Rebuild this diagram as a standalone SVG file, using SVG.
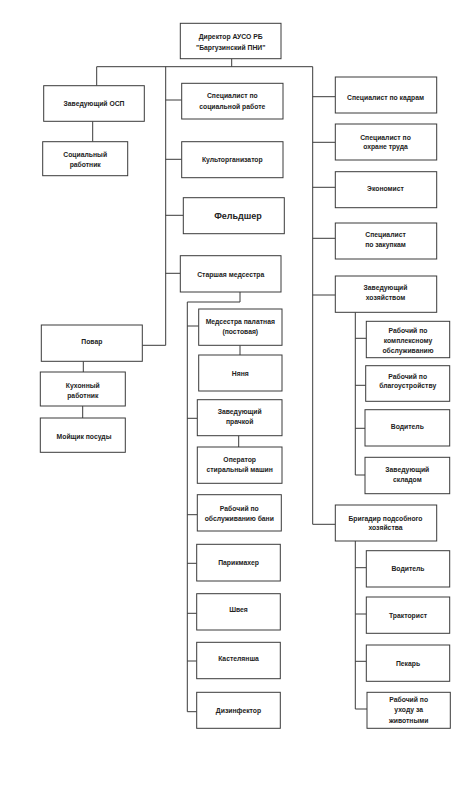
<svg xmlns="http://www.w3.org/2000/svg" width="472" height="802" viewBox="0 0 472 802">
<style>
.b{fill:#fff;stroke:#3a3a3a;stroke-width:1}
.t{font-family:"Liberation Sans",Arial,sans-serif;font-size:6.8px;font-weight:bold;fill:#222;text-anchor:middle}
.big{font-size:9px}
.c{fill:none;stroke:#3a3a3a;stroke-width:1}
</style>
<rect width="472" height="802" fill="#fff"/>
<g id="connectors">
<path class="c" d="M231.7,58.7V66.7M96.7,85.7V66.7H312.7V524.3H335.3M165.7,66.7V345.3H142.3"/>
<path class="c" d="M165.7,100H181.7M165.7,159.3H181.7M165.7,215.3H183.3M165.7,273.3H180.3"/>
<path class="c" d="M312.7,96.7H335.3M312.7,142.3H335.3M312.7,187.3H335.3M312.7,238.3H335.3M312.7,295H335.3"/>
<path class="c" d="M92.7,121.3V141.7M83.3,361.3V372M82.7,406V418"/>
<path class="c" d="M240,292V302H187.3V711.7H196.7M187.3,326H198.7M187.3,418.3H197.3M187.3,514.7H197.3M187.3,563.3H196.7M187.3,613.3H196.7M187.3,661H196.7M240,345.3V355M238.7,435.7V447"/>
<path class="c" d="M355.3,312.3V475H365M355.3,338.3H366.3M355.3,385.3H365.7M355.3,428.3H365"/>
<path class="c" d="M355.3,541V709H367M355.3,567.7H366.3M355.3,614H366.3M355.3,661.3H366.3"/>
</g>
<g id="director"><rect class="b" x="180.3" y="23.3" width="100.7" height="35.4"/><text class="t" x="230.7" y="39">Директор АУСО РБ</text><text class="t" x="230.7" y="50">"Баргузинский ПНИ"</text></g>
<g id="zav-osp"><rect class="b" x="43.7" y="85.7" width="100.6" height="35.6"/><text class="t" x="94" y="105.6">Заведующий ОСП</text></g>
<g id="soc-rab"><rect class="b" x="42.7" y="141.7" width="85" height="34"/><text class="t" x="85.2" y="156.6">Социальный</text><text class="t" x="85.2" y="166.6">работник</text></g>
<g id="spec-soc"><rect class="b" x="181.7" y="83.3" width="101.3" height="35.7"/><text class="t" x="232.3" y="98.3">Специалист по</text><text class="t" x="232.3" y="109">социальной работе</text></g>
<g id="kultorg"><rect class="b" x="181.7" y="141.7" width="101.3" height="36"/><text class="t" x="232.3" y="162.3">Культорганизатор</text></g>
<g id="feldsher"><rect class="b" x="183.3" y="197.7" width="101" height="36"/><text class="t big" x="238" y="218.5">Фельдшер</text></g>
<g id="st-medsestra"><rect class="b" x="180.3" y="255.7" width="100.7" height="36.3"/><text class="t" x="230.7" y="277.3">Старшая медсестра</text></g>
<g id="povar"><rect class="b" x="41.3" y="325" width="101" height="36.3"/><text class="t" x="91.8" y="344">Повар</text></g>
<g id="kuhon"><rect class="b" x="40.3" y="372" width="85" height="34"/><text class="t" x="82.8" y="388">Кухонный</text><text class="t" x="82.8" y="398">работник</text></g>
<g id="moyshik"><rect class="b" x="40.3" y="418" width="85" height="34.3"/><text class="t" x="84" y="439">Мойщик посуды</text></g>
<g id="spec-kadry"><rect class="b" x="335.3" y="77" width="101.4" height="36"/><text class="t" x="385.5" y="99.6">Специалист по кадрам</text></g>
<g id="spec-ohrana"><rect class="b" x="335.3" y="124" width="101.4" height="36"/><text class="t" x="385.5" y="139.6">Специалист по</text><text class="t" x="385.5" y="149">охране труда</text></g>
<g id="ekonomist"><rect class="b" x="335.3" y="171.7" width="101.4" height="36"/><text class="t" x="385.5" y="191.3">Экономист</text></g>
<g id="spec-zakupki"><rect class="b" x="335.3" y="223" width="101.4" height="36"/><text class="t" x="385.5" y="236.6">Специалист</text><text class="t" x="385.5" y="246.6">по закупкам</text></g>
<g id="zav-hoz"><rect class="b" x="335.3" y="276" width="101.4" height="36.3"/><text class="t" x="385.5" y="289.6">Заведующий</text><text class="t" x="385.5" y="299.6">хозяйством</text></g>
<g id="rab-kompl"><rect class="b" x="366.3" y="321.3" width="83.4" height="36.4"/><text class="t" x="408" y="332.6">Рабочий по</text><text class="t" x="408" y="342.6">комплексному</text><text class="t" x="408" y="352.6">обслуживанию</text></g>
<g id="rab-blag"><rect class="b" x="365.7" y="365.7" width="84" height="35.6"/><text class="t" x="407.7" y="378.6">Рабочий  по</text><text class="t" x="407.7" y="388.3">благоустройству</text></g>
<g id="voditel1"><rect class="b" x="365" y="409.7" width="84.7" height="36.3"/><text class="t" x="407.3" y="429">Водитель</text></g>
<g id="zav-sklad"><rect class="b" x="365" y="457.3" width="84.7" height="36.4"/><text class="t" x="407.3" y="471.6">Заведующий</text><text class="t" x="407.3" y="481.6">складом</text></g>
<g id="brigadir"><rect class="b" x="335.3" y="505" width="101.4" height="36"/><text class="t" x="385.5" y="520.6">Бригадир подсобного</text><text class="t" x="385.5" y="529.6">хозяйства</text></g>
<g id="voditel2"><rect class="b" x="366.3" y="550.7" width="83.4" height="36.3"/><text class="t" x="408" y="571.3">Водитель</text></g>
<g id="traktorist"><rect class="b" x="366.3" y="597" width="83.4" height="36.3"/><text class="t" x="408" y="618.3">Тракторист</text></g>
<g id="pekar"><rect class="b" x="366.3" y="645" width="83.4" height="36.3"/><text class="t" x="408" y="666">Пекарь</text></g>
<g id="rab-zhivotn"><rect class="b" x="367" y="692.3" width="83.3" height="36"/><text class="t" x="408.7" y="702.3">Рабочий по</text><text class="t" x="408.7" y="712.3">уходу за</text><text class="t" x="408.7" y="722.6">животными</text></g>
<g id="medsestra-pal"><rect class="b" x="198.7" y="309" width="83.3" height="36.3"/><text class="t" x="240.3" y="324">Медсестра палатная</text><text class="t" x="240.3" y="334">(постовая)</text></g>
<g id="nyanya"><rect class="b" x="198.7" y="355" width="83.3" height="36"/><text class="t" x="240.3" y="375.6">Няня</text></g>
<g id="zav-prachka"><rect class="b" x="197.3" y="399.7" width="84.7" height="36"/><text class="t" x="239.7" y="414">Заведующий</text><text class="t" x="239.7" y="424.3">прачкой</text></g>
<g id="operator"><rect class="b" x="197.3" y="447" width="84.7" height="36.3"/><text class="t" x="239.7" y="462">Оператор</text><text class="t" x="239.7" y="472">стиральный машин</text></g>
<g id="rab-banya"><rect class="b" x="197.3" y="494.7" width="84" height="36.3"/><text class="t" x="239.3" y="510.6">Рабочий по</text><text class="t" x="239.3" y="520.6">обслуживанию бани</text></g>
<g id="parikmaher"><rect class="b" x="196.7" y="544.3" width="83.6" height="36.7"/><text class="t" x="238.5" y="565.3">Парикмахер</text></g>
<g id="shveya"><rect class="b" x="196.7" y="593.7" width="83.6" height="36.3"/><text class="t" x="238.5" y="612.3">Швея</text></g>
<g id="kastelyansha"><rect class="b" x="196.7" y="642.3" width="83.6" height="36.4"/><text class="t" x="238.5" y="661.3">Кастелянша</text></g>
<g id="dezinfektor"><rect class="b" x="196.7" y="692.3" width="83.6" height="36"/><text class="t" x="238.5" y="712.6">Дизинфектор</text></g>
</svg>
